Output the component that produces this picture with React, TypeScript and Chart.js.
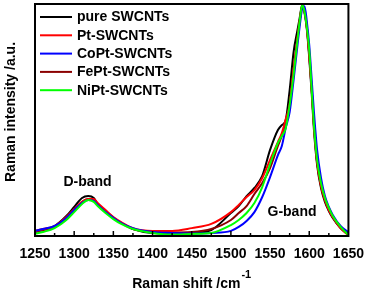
import React, { useEffect, useRef } from "react";
import { Chart, registerables } from "chart.js";

Chart.register(...registerables);

const wavenumbers = [1250, 1260, 1275, 1290, 1300, 1310, 1318, 1325, 1330, 1340, 1350, 1360, 1375, 1400, 1425, 1450, 1475, 1500, 1510, 1520, 1530, 1540, 1550, 1560, 1565, 1570, 1575, 1580, 1585, 1588, 1591, 1594, 1597, 1600, 1603, 1606, 1610, 1615, 1620, 1625, 1630, 1640, 1650];

const pureSWCNTs = [0.017, 0.026, 0.043, 0.086, 0.125, 0.164, 0.172, 0.164, 0.138, 0.108, 0.078, 0.056, 0.030, 0.013, 0.011, 0.013, 0.026, 0.099, 0.129, 0.172, 0.207, 0.259, 0.371, 0.457, 0.478, 0.500, 0.629, 0.793, 0.888, 0.944, 0.996, 0.961, 0.888, 0.767, 0.621, 0.457, 0.306, 0.207, 0.147, 0.108, 0.078, 0.034, 0.009];
const ptSWCNTs = [0.022, 0.030, 0.043, 0.082, 0.116, 0.147, 0.159, 0.159, 0.142, 0.112, 0.082, 0.060, 0.034, 0.022, 0.022, 0.034, 0.052, 0.103, 0.134, 0.168, 0.198, 0.250, 0.328, 0.405, 0.444, 0.504, 0.565, 0.716, 0.853, 0.931, 0.991, 0.966, 0.897, 0.780, 0.638, 0.474, 0.319, 0.216, 0.155, 0.112, 0.082, 0.034, 0.004];
const coPtSWCNTs = [0.022, 0.030, 0.043, 0.078, 0.112, 0.142, 0.155, 0.151, 0.134, 0.103, 0.078, 0.056, 0.034, 0.017, 0.013, 0.011, 0.013, 0.022, 0.039, 0.065, 0.103, 0.168, 0.254, 0.349, 0.388, 0.466, 0.534, 0.672, 0.823, 0.909, 0.980, 0.990, 0.922, 0.823, 0.681, 0.534, 0.371, 0.250, 0.172, 0.125, 0.091, 0.043, 0.017];
const fePtSWCNTs = [0.017, 0.026, 0.039, 0.078, 0.112, 0.147, 0.159, 0.155, 0.138, 0.108, 0.078, 0.056, 0.030, 0.017, 0.015, 0.017, 0.030, 0.069, 0.099, 0.129, 0.181, 0.228, 0.293, 0.388, 0.431, 0.483, 0.569, 0.716, 0.853, 0.931, 0.991, 0.966, 0.897, 0.780, 0.638, 0.478, 0.319, 0.216, 0.155, 0.112, 0.082, 0.034, 0.004];
const niPtSWCNTs = [0.009, 0.017, 0.034, 0.069, 0.103, 0.138, 0.155, 0.147, 0.129, 0.099, 0.073, 0.052, 0.030, 0.013, 0.006, 0.009, 0.013, 0.047, 0.069, 0.099, 0.142, 0.211, 0.310, 0.401, 0.431, 0.466, 0.565, 0.694, 0.845, 0.931, 0.996, 0.966, 0.897, 0.800, 0.638, 0.478, 0.328, 0.228, 0.164, 0.121, 0.086, 0.039, 0.004];

const seriesLabels = ["pure SWCNTs", "Pt-SWCNTs", "CoPt-SWCNTs", "FePt-SWCNTs", "NiPt-SWCNTs"];
const seriesValues = [pureSWCNTs, ptSWCNTs, coPtSWCNTs, fePtSWCNTs, niPtSWCNTs];
const seriesColors = ["#000000", "#ff0000", "#0000ff", "#8b0000", "#00ff00"];
const seriesOrder = [5, 3, 2, 4, 1];

const xTickMin = 1250;
const xTickMax = 1650;
const xTickStep = 50;
const xMinorStep = 25;

const bandLabels = ["D-band", "G-band"];
const bandAnchorX = [1317, 1578];
const bandAnchorY = [0.233, 0.103];

const FONT = '"Liberation Sans", Arial, Helvetica, sans-serif';

const decorPlugin = {
  id: "decor",
  afterDatasetsDraw(chart: any) {
    const { ctx, chartArea: a, scales } = chart;
    const x = scales.x;
    const y = scales.y;
    ctx.save();
    // frame
    ctx.strokeStyle = "#000";
    ctx.lineWidth = 2;
    ctx.strokeRect(a.left, a.top, a.right - a.left, a.bottom - a.top);
    // inward ticks on bottom axis
    ctx.lineWidth = 1.5;
    for (let v = xTickMin + xMinorStep; v < xTickMax; v += xMinorStep) {
      const px = x.getPixelForValue(v);
      const len = v % xTickStep === 0 ? 5 : 3;
      ctx.beginPath();
      ctx.moveTo(px, a.bottom);
      ctx.lineTo(px, a.bottom - len);
      ctx.stroke();
    }
    // legend
    ctx.font = `bold 14px ${FONT}`;
    ctx.textBaseline = "middle";
    ctx.textAlign = "left";
    chart.data.datasets.forEach((ds: any, i: number) => {
      const ry = a.top + 13 + i * 18.3;
      ctx.strokeStyle = ds.borderColor;
      ctx.lineWidth = 2;
      ctx.beginPath();
      ctx.moveTo(a.left + 5, ry);
      ctx.lineTo(a.left + 37, ry);
      ctx.stroke();
      ctx.fillStyle = "#000";
      ctx.fillText(ds.label, a.left + 42, ry + 0.5);
    });
    // band labels
    ctx.textAlign = "center";
    bandLabels.forEach((t, i) => {
      ctx.fillText(t, x.getPixelForValue(bandAnchorX[i]), y.getPixelForValue(bandAnchorY[i]));
    });
    // x axis title with superscript
    const main = "Raman shift /cm";
    const sup = "-1";
    ctx.font = `bold 14px ${FONT}`;
    const wMain = ctx.measureText(main).width;
    ctx.font = `bold 11px ${FONT}`;
    const wSup = ctx.measureText(sup).width;
    const cx = (a.left + a.right) / 2;
    const startX = cx - (wMain + wSup + 1) / 2;
    ctx.textAlign = "left";
    ctx.textBaseline = "alphabetic";
    ctx.font = `bold 14px ${FONT}`;
    ctx.fillText(main, startX, a.bottom + 52);
    ctx.font = `bold 11px ${FONT}`;
    ctx.fillText(sup, startX + wMain + 1, a.bottom + 42);
    // y axis title
    ctx.font = `bold 14px ${FONT}`;
    ctx.textAlign = "center";
    ctx.textBaseline = "middle";
    ctx.translate(a.left - 24, (a.top + a.bottom) / 2 - 8);
    ctx.rotate(-Math.PI / 2);
    ctx.fillText("Raman intensity /a.u.", 0, 0);
    ctx.restore();
  },
};

export default function App() {
  const canvasRef = useRef<HTMLCanvasElement | null>(null);

  useEffect(() => {
    if (!canvasRef.current) return;
    const datasets = seriesLabels.map((label, i) => ({
      label,
      data: wavenumbers.map((w, j) => ({ x: w, y: seriesValues[i][j] })),
      borderColor: seriesColors[i],
      backgroundColor: seriesColors[i],
      borderWidth: 2,
      pointRadius: 0,
      fill: false,
      cubicInterpolationMode: "monotone" as const,
      order: seriesOrder[i],
    }));
    const chart = new Chart(canvasRef.current, {
      type: "line",
      data: { datasets },
      options: {
        animation: false,
        responsive: true,
        maintainAspectRatio: false,
        layout: { padding: { top: 4, right: 19, left: 0, bottom: 0 } },
        plugins: {
          legend: { display: false },
          tooltip: { enabled: false },
        },
        scales: {
          x: {
            type: "linear",
            min: xTickMin,
            max: xTickMax,
            grid: { display: false, drawTicks: false },
            border: { display: false },
            afterFit: (s: any) => {
              s.height = 56;
            },
            ticks: {
              stepSize: xTickStep,
              autoSkip: false,
              maxRotation: 0,
              padding: 10,
              color: "#000",
              font: { family: FONT, size: 14, weight: "bold" },
              callback: (v: any) => String(v),
            },
          },
          y: {
            type: "linear",
            min: 0,
            max: 1,
            grid: { display: false, drawTicks: false },
            border: { display: false },
            ticks: { display: false },
            afterFit: (s: any) => {
              s.width = 35;
            },
          },
        },
      },
      plugins: [decorPlugin],
    });
    return () => chart.destroy();
  }, []);

  return (
    <div style={{ position: "absolute", left: 0, top: 0, width: 374, height: 292, background: "#fff" }}>
      <canvas ref={canvasRef} />
    </div>
  );
}
